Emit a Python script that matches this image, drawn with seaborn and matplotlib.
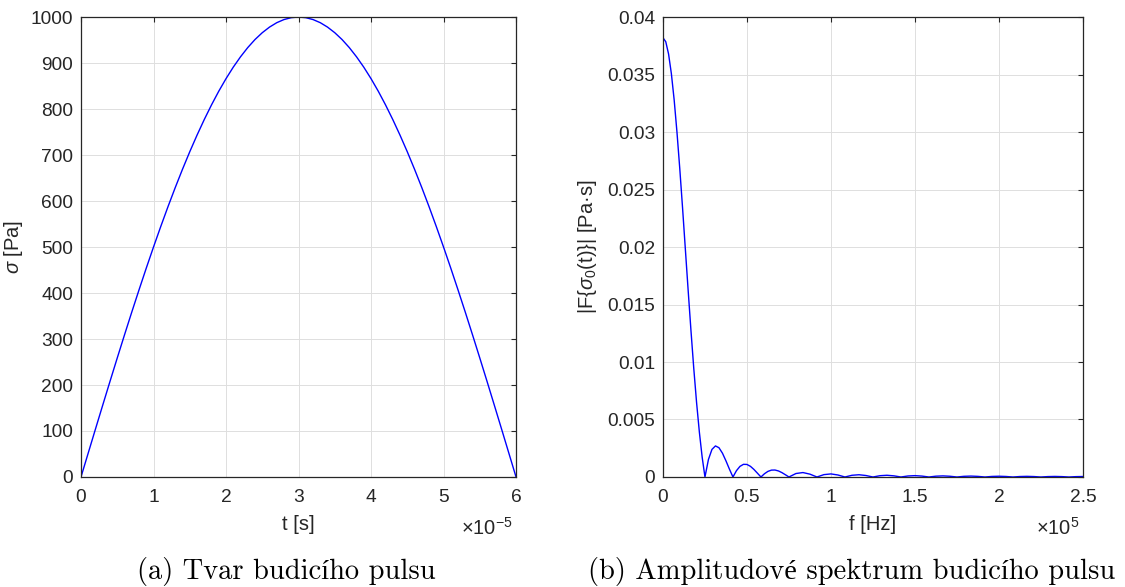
import numpy as np
import pandas as pd
import seaborn as sns
import matplotlib.pyplot as plt
from matplotlib.ticker import FuncFormatter

# pulse shape, time in microseconds, stress in Pa
t_us = list(range(0, 61))
sigma_pa = [0, 52.3, 104.5, 156.4, 207.9, 258.8, 309.0, 358.4, 406.7, 454.0, 500.0,
            544.6, 587.8, 629.3, 669.1, 707.1, 743.1, 777.1, 809.0, 838.7, 866.0,
            891.0, 913.5, 933.6, 951.1, 965.9, 978.1, 987.7, 994.5, 998.6, 1000.0,
            998.6, 994.5, 987.7, 978.1, 965.9, 951.1, 933.6, 913.5, 891.0, 866.0,
            838.7, 809.0, 777.1, 743.1, 707.1, 669.1, 629.3, 587.8, 544.6, 500.0,
            454.0, 406.7, 358.4, 309.0, 258.8, 207.9, 156.4, 104.5, 52.3, 0]

# amplitude spectrum, frequency in kHz, amplitude in Pa*s
f_khz = [0, 1.67, 3.33, 5.0, 6.67, 8.33, 10.0, 11.67, 13.33, 15.0, 16.67, 18.33, 20.0,
         21.67, 23.33, 25.0,
         27.08, 29.17, 31.25, 33.33, 35.42, 37.5, 39.58, 41.67,
         43.75, 45.83, 47.92, 50.0, 52.08, 54.17, 56.25, 58.33,
         60.42, 62.5, 64.58, 66.67, 68.75, 70.83, 72.92, 75.0,
         79.17, 83.33, 87.5, 91.67, 95.83, 100.0, 104.17, 108.33, 112.5, 116.67,
         120.83, 125.0, 129.17, 133.33, 137.5, 141.67, 145.83, 150.0, 154.17, 158.33,
         162.5, 166.67, 170.83, 175.0, 179.17, 183.33, 187.5, 191.67, 195.83, 200.0,
         204.17, 208.33, 212.5, 216.67, 220.83, 225.0, 229.17, 233.33, 237.5, 241.67,
         245.83, 250.0]
amp = [0.03820, 0.03785, 0.03679, 0.03508, 0.03279, 0.03000, 0.02683, 0.02339, 0.01981,
       0.01622, 0.01273, 0.00946, 0.00649, 0.00390, 0.00173, 0.0,
       0.001529, 0.002401, 0.002702, 0.002546, 0.002068, 0.001403, 0.000678, 0.0,
       0.000550, 0.000923, 0.001101, 0.001091, 0.000927, 0.000655, 0.000328, 0.0,
       0.000283, 0.000489, 0.000598, 0.000606, 0.000526, 0.000379, 0.000193, 0.0,
       0.000303, 0.000386, 0.000247, 0.0, 0.000206, 0.000267, 0.000174, 0.0,
       0.000149, 0.000196, 0.000129, 0.0, 0.000113, 0.000150, 0.000100, 0.0,
       0.0000885, 0.000118, 0.0000792, 0.0, 0.0000712, 0.0000957, 0.0000644, 0.0,
       0.0000586, 0.0000791, 0.0000535, 0.0, 0.0000490, 0.0000664, 0.0000451, 0.0,
       0.0000416, 0.0000566, 0.0000385, 0.0, 0.0000358, 0.0000488, 0.0000333, 0.0,
       0.0000311, 0.0000425]

captions = ['(a) Tvar budicího pulsu', '(b) Amplitudové spektrum budicího pulsu']

sns.set_style('white')
plt.rcParams['font.family'] = ['Liberation Sans', 'DejaVu Sans']
plt.rcParams['mathtext.fontset'] = 'custom'
plt.rcParams['mathtext.rm'] = 'Liberation Sans'
plt.rcParams['mathtext.it'] = 'Liberation Sans:italic'

dark = '#262626'
pulse = pd.DataFrame({'t': np.array(t_us) * 1e-6, 'sigma': sigma_pa})
spec = pd.DataFrame({'f': np.array(f_khz) * 1e3, 'amp': amp})

fig = plt.figure(figsize=(11.25, 5.87), dpi=100)
ax1 = fig.add_axes([0.072, 0.1874, 0.3867, 0.7836])
ax2 = fig.add_axes([0.5893, 0.1874, 0.3733, 0.7836])

sns.lineplot(data=pulse, x='t', y='sigma', ax=ax1, color='blue', lw=1.0)
sns.lineplot(data=spec, x='f', y='amp', ax=ax2, color='blue', lw=1.0)

def style_axis(ax):
    ax.grid(True, color='#dedede', lw=0.7)
    ax.set_axisbelow(True)
    for s in ax.spines.values():
        s.set_visible(True)
        s.set_color(dark)
        s.set_linewidth(0.9)
    ax.tick_params(direction='in', length=3.5, width=0.8, top=True, right=True,
                   colors=dark, labelsize=13.8)
    ax.tick_params(axis='x', pad=9)
    ax.tick_params(axis='y', pad=5.5)

ax1.set_xlim(0, 6e-5)
ax1.set_ylim(0, 1000)
ax1.set_xticks(np.arange(0, 6.01e-5, 1e-5))
ax1.set_yticks(np.arange(0, 1001, 100))
ax1.xaxis.set_major_formatter(FuncFormatter(lambda v, p: f'{v / 1e-5:g}'))
ax1.set_xlabel('t [s]', fontsize=14.5, color=dark, labelpad=6)
ax1.set_ylabel(r'$\sigma$ [Pa]', fontsize=14.5, color=dark)
ax1.text(0.993, -0.126, r'$\times10^{-5}$', transform=ax1.transAxes, ha='right',
         va='baseline', fontsize=14.5, color=dark)

ax2.set_xlim(0, 2.5e5)
ax2.set_ylim(0, 0.04)
ax2.set_xticks(np.arange(0, 2.51e5, 0.5e5))
ax2.set_yticks(np.arange(0, 0.0401, 0.005))
ax2.xaxis.set_major_formatter(FuncFormatter(lambda v, p: f'{v / 1e5:g}'))
ax2.yaxis.set_major_formatter(FuncFormatter(lambda v, p: f'{v:g}'))
ax2.set_xlabel('f [Hz]', fontsize=14.5, color=dark, labelpad=6)
ax2.set_ylabel(r'|F{$\sigma_0$(t)}| [Pa·s]', fontsize=14.5, color=dark, labelpad=6)
ax2.text(0.993, -0.126, r'$\times10^{5}$', transform=ax2.transAxes, ha='right',
         va='baseline', fontsize=14.5, color=dark)

for ax in (ax1, ax2):
    style_axis(ax)

# subfigure captions, LaTeX-like serif
for xc, cap in zip([286 / 1125, 852 / 1125], captions):
    fig.text(xc, 0.013, cap, ha='center', va='baseline', fontsize=20.5,
             family=['cmr10', 'Liberation Serif'], color='black')

fig.savefig('out.png', dpi=100)
